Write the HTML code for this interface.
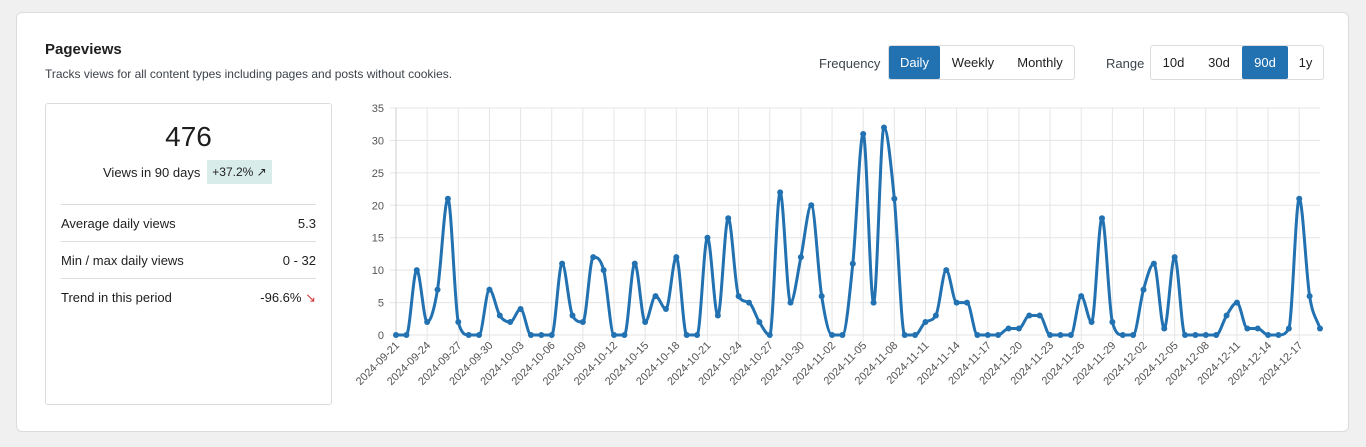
<!DOCTYPE html>
<html><head><meta charset="utf-8"><style>
body{margin:0;width:1366px;height:447px;background:#f0f0f1;font-family:"Liberation Sans",sans-serif;color:#1e1e1e;position:relative;overflow:hidden}
.card{position:absolute;left:16px;top:12px;width:1333px;height:420px;background:#fff;border:1px solid #dcdcde;border-radius:6px;box-sizing:border-box}
.abs{position:absolute}
.grp{position:absolute;top:45px;height:35px;border:1px solid #dcdcde;border-radius:3px;display:flex;box-sizing:border-box;background:#fff}
.grp div{display:flex;align-items:center;justify-content:center;font-size:13px;color:#1e1e1e}
.grp .on{background:#2271b1;color:#fff;border-radius:2px}
.lbl{position:absolute;top:56px;font-size:13px;color:#3c434a}
.box{position:absolute;left:45px;top:103px;width:287px;height:302px;border:1px solid #dcdcde;border-radius:3px;box-sizing:border-box}
.row{position:absolute;left:15px;width:255px;border-top:1px solid #dcdcde;height:37px;font-size:13px;color:#1e1e1e;display:flex;align-items:center;justify-content:space-between}
</style></head><body>
<div class="card"></div>
<div class="abs" style="left:45px;top:41px;font-size:15px;font-weight:bold">Pageviews</div>
<div class="abs" style="left:45px;top:67px;font-size:12px;color:#3c434a">Tracks views for all content types including pages and posts without cookies.</div>
<div class="lbl" style="left:819px">Frequency</div>
<div class="grp" style="left:888px;width:187px"><div class="on" style="width:51px">Daily</div><div style="width:66px">Weekly</div><div style="width:68px">Monthly</div></div>
<div class="lbl" style="left:1106px">Range</div>
<div class="grp" style="left:1150px;width:174px"><div style="width:45px">10d</div><div style="width:46px">30d</div><div class="on" style="width:46px">90d</div><div style="width:35px">1y</div></div>
<div class="box">
<div class="abs" style="left:0;width:285px;top:17px;text-align:center;font-size:28px;color:#1e1e1e">476</div>
<div class="abs" style="left:57px;top:61px;font-size:13px;color:#1e1e1e">Views in 90 days</div>
<div class="abs" style="left:161px;top:56px;width:65px;height:24px;background:#d8ecea;font-size:12px;line-height:24px;text-align:center;color:#1e1e1e">+37.2% ↗</div>
<div class="row" style="top:100px"><span>Average daily views</span><span>5.3</span></div>
<div class="row" style="top:137px"><span>Min / max daily views</span><span>0 - 32</span></div>
<div class="row" style="top:174px"><span>Trend in this period</span><span>-96.6% <span style="color:#d63638">↘</span></span></div>
</div>
<svg id="c" class="abs" style="left:0;top:0" width="1366" height="447"></svg>
<script>
var d=[0,0,10,2,7,21,2,0,0,7,3,2,4,0,0,0,11,3,2,12,10,0,0,11,2,6,4,12,0,0,15,3,18,6,5,2,0,22,5,12,20,6,0,0,11,31,5,32,21,0,0,2,3,10,5,5,0,0,0,1,1,3,3,0,0,0,6,2,18,2,0,0,7,11,1,12,0,0,0,0,3,5,1,1,0,0,1,21,6,1];
var x0=396,dx=(1320-396)/89,y0=335,sy=227/35;
var X=i=>x0+i*dx,Y=v=>y0-v*sy;
var s='';
for(var k=0;k<=7;k++){var y=Y(k*5);s+='<line x1="390" x2="1320" y1="'+y+'" y2="'+y+'" stroke="#e5e5e5"/>';
s+='<text x="384" y="'+(y+4)+'" font-size="11" text-anchor="end" fill="#555" font-family="Liberation Sans">'+(k*5)+'</text>';}
var st=new Date(2024,8,21);
for(var i=0;i<90;i+=3){var x=X(i);s+='<line x1="'+x+'" x2="'+x+'" y1="108" y2="341" stroke="#e5e5e5"/>';
var dt=new Date(st.getTime()+i*864e5+36e5*3);var lab=dt.getFullYear()+'-'+String(dt.getMonth()+1).padStart(2,'0')+'-'+String(dt.getDate()).padStart(2,'0');
s+='<text transform="translate('+(x+4)+',346) rotate(-45)" font-size="11" text-anchor="end" fill="#555" font-family="Liberation Sans">'+lab+'</text>';}
s+='<line x1="396" x2="396" y1="108" y2="335" stroke="#ccc"/>';
// monotone cubic
var n=d.length,m=[],del=[];
for(i=0;i<n-1;i++)del.push(d[i+1]-d[i]);
m[0]=del[0];m[n-1]=del[n-2];
for(i=1;i<n-1;i++)m[i]=(del[i-1]*del[i]<=0)?0:(del[i-1]+del[i])/2;
for(i=0;i<n-1;i++){if(del[i]==0){m[i]=0;m[i+1]=0;continue;}var a=m[i]/del[i],b=m[i+1]/del[i],h=a*a+b*b;if(h>9){var t=3/Math.sqrt(h);m[i]=t*a*del[i];m[i+1]=t*b*del[i];}}
var p='M'+X(0)+','+Y(d[0]);
for(i=0;i<n-1;i++){p+=' C'+(X(i)+dx/3)+','+Y(d[i]+m[i]/3)+' '+(X(i+1)-dx/3)+','+Y(d[i+1]-m[i+1]/3)+' '+X(i+1)+','+Y(d[i+1]);}
s+='<path d="'+p+'" fill="none" stroke="#2271b1" stroke-width="3"/>';
for(i=0;i<n;i++)s+='<circle cx="'+X(i)+'" cy="'+Y(d[i])+'" r="3" fill="#2271b1"/>';
document.getElementById('c').innerHTML=s;
</script>
</body></html>
